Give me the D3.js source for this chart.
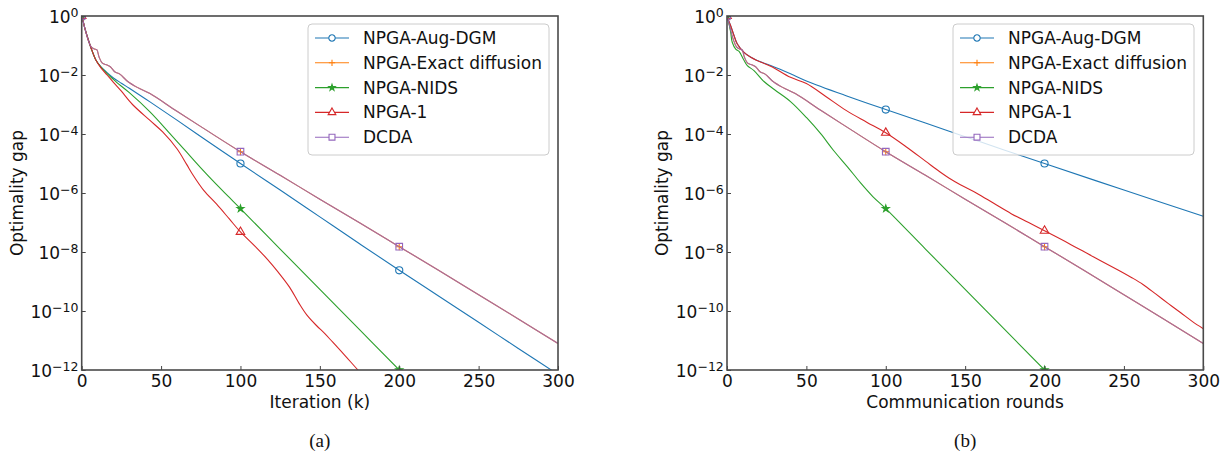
<!DOCTYPE html>
<html>
<head>
<meta charset="utf-8">
<script src="https://cdn.jsdelivr.net/npm/d3@7"></script>
<style>
  body { margin: 0; background: #fff; }
  svg { display: block; font-family: "DejaVu Sans", sans-serif; }
</style>
</head>
<body>
<svg id="chart" width="1220" height="457"></svg>
<script>
// values are log10(optimality gap)
const names = ["NPGA-Aug-DGM", "NPGA-Exact diffusion", "NPGA-NIDS", "NPGA-1", "DCDA"];
const xTicks = [0, 50, 100, 150, 200, 250, 300];
const yTicks = [1e-12, 1e-10, 1e-8, 1e-6, 1e-4, 1e-2, 1];
const markAt = [0, 100, 200];

// DCDA and Exact diffusion coincide, same in both panels
const kDcda = [0, 1, 2, 4, 6, 8, 9.5, 11, 13, 16, 18, 21, 24, 29, 35, 43, 60, 80, 100, 125, 150, 175, 200, 225, 250, 275, 300];
const gDcda = [0, -0.2, -0.42, -0.8, -1.05, -1.12, -1.14, -1.4, -1.6, -1.66, -1.72, -1.9, -1.97, -2.22, -2.42, -2.63, -3.23, -3.92, -4.6, -5.4, -6.21, -7.01, -7.82, -8.63, -9.45, -10.27, -11.1];

// (a) iteration
const kAugA = [0, 1, 2, 4, 6, 9, 12, 16, 20, 25, 30, 43, 60, 80, 100, 125, 150, 175, 200, 225, 250, 275, 300];
const gAugA = [0, -0.2, -0.42, -0.78, -1.1, -1.5, -1.72, -1.92, -2.1, -2.28, -2.45, -2.91, -3.53, -4.27, -5.0, -5.9, -6.81, -7.72, -8.62, -9.5, -10.38, -11.27, -12.15];
const kNidsA = [0, 1, 2, 4, 6, 9, 12, 16, 20, 22, 30, 43, 55, 65, 75, 85, 93, 100, 125, 150, 175, 200, 215];
const gNidsA = [0, -0.2, -0.42, -0.78, -1.1, -1.5, -1.72, -1.95, -2.15, -2.25, -2.6, -3.25, -3.95, -4.55, -5.15, -5.72, -6.15, -6.53, -7.9, -9.27, -10.63, -12.0, -12.8];
const kOneA = [0, 1, 2, 4, 6, 9, 12, 16, 20, 25, 32, 43, 51, 60, 66, 70, 77, 85, 93, 100, 110, 117, 124, 131, 137, 142, 148, 153, 158, 166, 174, 182];
const gOneA = [0, -0.2, -0.42, -0.78, -1.1, -1.5, -1.75, -2.0, -2.25, -2.55, -3.0, -3.54, -3.93, -4.5, -5.02, -5.38, -5.92, -6.38, -6.88, -7.32, -7.85, -8.25, -8.7, -9.2, -9.75, -10.15, -10.5, -10.76, -11.05, -11.52, -12.0, -12.45];

// (b) communication rounds
const kAugB = [0, 1, 2.3, 4.4, 6.5, 10.7, 15, 19, 27.5, 40, 50, 75, 100, 125, 150, 175, 200, 250, 300];
const gAugB = [0, -0.15, -0.33, -0.66, -0.95, -1.23, -1.4, -1.51, -1.68, -1.96, -2.2, -2.7, -3.17, -3.63, -4.09, -4.55, -5.0, -5.9, -6.79];
const kNidsB = [0, 1, 2.3, 3.3, 5.5, 7.6, 10.7, 12.8, 17, 23.3, 30, 40, 50, 59, 67, 76, 84, 92, 100, 125, 150, 175, 200, 215];
const gNidsB = [0, -0.2, -0.55, -0.89, -1.12, -1.2, -1.5, -1.68, -1.85, -2.22, -2.5, -2.9, -3.44, -3.99, -4.55, -5.12, -5.65, -6.13, -6.53, -7.9, -9.27, -10.63, -12.0, -12.8];
const kOneB = [0, 1, 2.3, 4.4, 6.5, 10.7, 15, 19, 27.5, 40, 50, 62, 75, 88, 100, 113, 125, 134, 140, 147, 157, 168, 179, 190, 200, 215, 231, 246, 255, 262, 270, 278, 286, 293, 300];
const gOneB = [0, -0.15, -0.33, -0.66, -0.95, -1.23, -1.4, -1.51, -1.7, -2.08, -2.29, -2.72, -3.2, -3.6, -3.96, -4.44, -4.92, -5.28, -5.5, -5.72, -6.0, -6.35, -6.7, -7.0, -7.28, -7.7, -8.17, -8.6, -8.87, -9.1, -9.42, -9.75, -10.07, -10.35, -10.6];

const colors = ["#1f77b4", "#ff7f0e", "#2ca02c", "#d62728", "#9467bd"];

const plus = {
  draw(ctx, size) {
    const r = Math.sqrt(size) / 2;
    ctx.moveTo(-r, 0); ctx.lineTo(r, 0);
    ctx.moveTo(0, -r); ctx.lineTo(0, r);
  }
};
const markers = [
  { type: d3.symbolCircle, size: 40, filled: false },
  { type: plus, size: 49, filled: false },
  { type: d3.symbolStar, size: 15, filled: true },
  { type: d3.symbolTriangle, size: 32, filled: false },
  { type: d3.symbolSquare, size: 44, filled: false }
];

const marginTop = 16;
const width = 476.3;
const height = 354;

const panels = [
  {
    left: 81.7, xLabel: "Iteration (k)", caption: "(a)", legendX: 308,
    series: [[kAugA, gAugA], [kDcda, gDcda], [kNidsA, gNidsA], [kOneA, gOneA], [kDcda, gDcda]]
  },
  {
    left: 727, xLabel: "Communication rounds", caption: "(b)", legendX: 953,
    series: [[kAugB, gAugB], [kDcda, gDcda], [kNidsB, gNidsB], [kOneB, gOneB], [kDcda, gDcda]]
  }
];

const svg = d3.select("#chart");

const x = d3.scaleLinear().domain([0, 300]).range([0, width]);
const y = d3.scaleLog().domain([1e-12, 1]).range([height, 0]);

const line = d3.line()
  .x((d) => x(d[0]))
  .y((d) => y(Math.pow(10, d[1])))
  .curve(d3.curveCatmullRom.alpha(0.5));

panels.forEach((p, pi) => {
  const g = svg.append("g").attr("transform", `translate(${p.left} ${marginTop})`);

  g.append("clipPath").attr("id", "clip" + pi)
    .append("rect").attr("width", width).attr("height", height);

  const plot = g.append("g").attr("clip-path", `url(#clip${pi})`);

  p.series.forEach(([ks, gs], i) => {
    const pts = ks.map((k, j) => [k, gs[j]]);
    plot.append("path")
      .attr("d", line(pts))
      .attr("fill", "none")
      .attr("stroke", colors[i])
      .attr("stroke-width", 1.1)
      .attr("stroke-opacity", i === 4 ? 0.85 : 1);

    const m = markers[i];
    const sym = d3.symbol().type(m.type).size(m.size);
    plot.selectAll(null)
      .data(pts.filter((d) => markAt.includes(d[0])))
      .join("path")
      .attr("transform", (d) => `translate(${x(d[0])},${y(Math.pow(10, d[1]))})`)
      .attr("d", sym)
      .attr("fill", m.filled ? colors[i] : "none")
      .attr("stroke", colors[i])
      .attr("stroke-width", 1.1);
  });

  // axes with inward ticks
  const xAxisG = g.append("g")
    .attr("transform", `translate(0,${height})`)
    .call(d3.axisBottom(x).tickValues(xTicks).tickSize(-4).tickPadding(5));
  xAxisG.select(".domain").remove();
  xAxisG.selectAll("line").attr("stroke", "#444");
  xAxisG.selectAll("text").attr("font-size", 17).attr("font-family", "DejaVu Sans").attr("fill", "#111");

  const yAxisG = g.append("g")
    .call(d3.axisLeft(y).tickValues(yTicks).tickSize(-4).tickFormat(""));
  yAxisG.select(".domain").remove();
  yAxisG.selectAll("line").attr("stroke", "#444");
  yAxisG.selectAll(".tick text").each(function (d) {
    const t = d3.select(this)
      .attr("x", -3.2).attr("dy", null).attr("y", 6.7)
      .attr("text-anchor", "end").attr("fill", "#111")
      .attr("font-family", "DejaVu Sans");
    t.text(null);
    t.append("tspan").attr("font-size", 17).text("10");
    const e = Math.round(Math.log10(d));
    t.append("tspan").attr("font-size", 12.5).attr("dy", -6.7)
      .text(e < 0 ? "\u2212" + -e : String(e));
  });

  g.append("rect")
    .attr("width", width).attr("height", height)
    .attr("fill", "none").attr("stroke", "#4a4a4a").attr("stroke-width", 1.6);

  g.append("text")
    .attr("transform", "rotate(-90)")
    .attr("x", -height / 2).attr("y", 23 - 81.7)
    .attr("text-anchor", "middle").attr("font-size", 17).attr("fill", "#111")
    .text("Optimality gap");

  g.append("text")
    .attr("x", width / 2).attr("y", height + 38)
    .attr("text-anchor", "middle").attr("font-size", 17).attr("fill", "#111")
    .text(p.xLabel);

  g.append("text")
    .attr("x", width / 2).attr("y", height + 77)
    .attr("text-anchor", "middle").attr("font-size", 19)
    .attr("font-family", "Liberation Serif, Times New Roman, serif").attr("fill", "#111")
    .text(p.caption);

  // legend
  const lg = svg.append("g").attr("transform", `translate(${p.legendX} 24)`);
  lg.append("rect")
    .attr("width", 241).attr("height", 131).attr("rx", 4)
    .attr("fill", "#fff").attr("fill-opacity", 0.8)
    .attr("stroke", "#ccc").attr("stroke-width", 1);
  names.forEach((name, i) => {
    const row = lg.append("g").attr("transform", `translate(0 ${14 + i * 24.8})`);
    row.append("line").attr("x1", 7).attr("x2", 41)
      .attr("stroke", colors[i]).attr("stroke-width", 1.1);
    const m = markers[i];
    row.append("path").attr("transform", "translate(24,0)")
      .attr("d", d3.symbol().type(m.type).size(m.size * 0.8))
      .attr("fill", m.filled ? colors[i] : "#fff")
      .attr("stroke", colors[i]).attr("stroke-width", 1.1);
    row.append("text").attr("x", 55).attr("dy", "0.35em")
      .attr("font-size", 17).attr("fill", "#111").text(name);
  });
});
</script>
</body>
</html>
